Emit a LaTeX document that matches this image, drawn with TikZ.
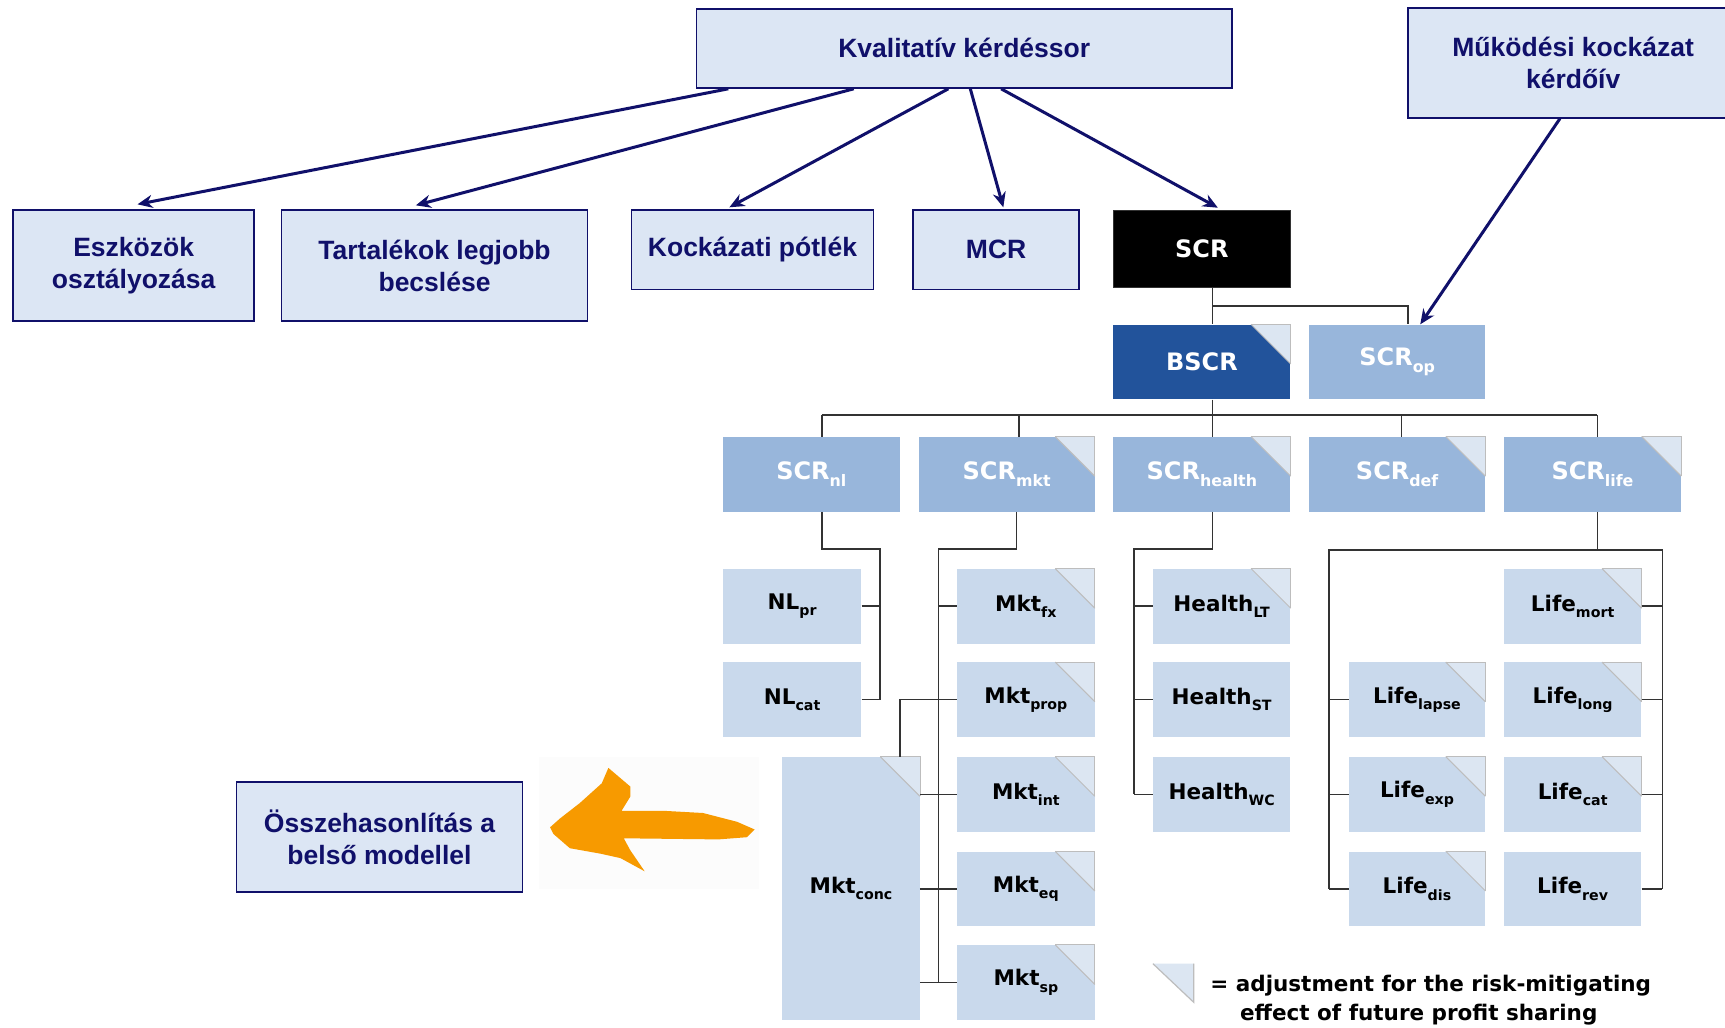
\documentclass[tikz,border=0pt]{standalone}
\usepackage{fontspec}
\setmainfont{Liberation Sans}
\newfontfamily\navyfont{Liberation Sans}
\newfontfamily\vfont{DejaVu Sans}
\usetikzlibrary{arrows.meta}
\definecolor{navy}{HTML}{10106A}
\definecolor{nfill}{HTML}{DCE6F4}
\definecolor{bscrc}{HTML}{22539B}
\definecolor{midc}{HTML}{98B6DB}
\definecolor{lightc}{HTML}{C9D9EC}
\definecolor{cornfill}{HTML}{DCE6F2}
\definecolor{cornline}{HTML}{BDBDBD}
\definecolor{orangec}{HTML}{F79A00}
\definecolor{linec}{HTML}{333333}
\newcommand\sbs[1]{\raisebox{-0.3em}{\scalebox{0.66}{#1}}}
\newcommand\bx[7]{\node[#1, minimum width={(#4-#2)*1.1pt}, minimum height={(#5-#3)*1.1pt}] (#6) at ({(#2+#4)/2},{(#3+#5)/2}) {#7};}
\tikzset{
  nbox/.style={draw=navy, line width=1.6pt, fill=nfill, inner sep=0pt, text=navy,
    font=\navyfont\bfseries\fontsize{26.5}{32}\selectfont, align=center},
  scrbox/.style={fill=black, draw=linec, line width=0.8pt, inner sep=0pt, text=white,
    font=\vfont\bfseries\fontsize{24}{28}\selectfont},
  bbox/.style={fill=bscrc, inner sep=0pt, text=white,
    font=\vfont\bfseries\fontsize{24}{28}\selectfont},
  mbox/.style={fill=midc, inner sep=0pt, text=white,
    font=\vfont\bfseries\fontsize{24}{28}\selectfont},
  lbox/.style={fill=lightc, inner sep=0pt, text=black,
    font=\vfont\bfseries\fontsize{21.5}{26}\selectfont},
  conn/.style={draw=linec, line width=1.6pt},
  narr/.style={draw=navy, line width=3pt, -{Stealth[length=15pt,width=13pt]}},
  legtext/.style={inner sep=0pt, text=black, font=\vfont\bfseries\fontsize{21.5}{28}\selectfont}
}
\begin{document}
\begin{tikzpicture}[x=1.1pt,y=-1.1pt]
\useasboundingbox[fill=white] (0,0) rectangle (1568,934);
\fill[black!1.2] (490,688) rectangle (690,808);
% navy boxes
\bx{nbox}{633}{8}{1120}{80}{kval}{Kvalitatív kérdéssor}
\bx{nbox}{1280}{7}{1580}{107}{mukod}{Működési kockázat\\kérdőív}
\bx{nbox}{12}{191}{231}{292}{eszk}{Eszközök\\osztályozása}
\bx{nbox}{256}{191}{534}{292}{tart}{Tartalékok legjobb\\becslése}
\bx{nbox}{574}{191}{794}{263}{kock}{Kockázati pótlék}
\bx{nbox}{830}{191}{981}{263}{mcr}{MCR}
\bx{nbox}{215}{711}{475}{811}{ossz}{Összehasonlítás a\\belső modellel}
% SCR tree
\bx{scrbox}{1012}{191}{1173}{261}{scr}{SCR}
\bx{bbox}{1012}{295}{1173}{363}{bscr}{BSCR}
\bx{mbox}{1190}{295}{1350}{363}{scrop}{SCR\sbs{op}}
\bx{mbox}{657}{397}{818}{465}{nl}{SCR\sbs{nl}}
\bx{mbox}{835}{397}{995}{465}{mkt}{SCR\sbs{mkt}}
\bx{mbox}{1012}{397}{1173}{465}{health}{SCR\sbs{health}}
\bx{mbox}{1190}{397}{1350}{465}{def}{SCR\sbs{def}}
\bx{mbox}{1367}{397}{1528}{465}{life}{SCR\sbs{life}}
% NL
\bx{lbox}{657}{517}{783}{585}{nlpr}{NL\sbs{pr}}
\bx{lbox}{657}{602}{783}{670}{nlcat}{NL\sbs{cat}}
% Mkt
\bx{lbox}{870}{517}{995}{585}{mktfx}{Mkt\sbs{fx}}
\bx{lbox}{870}{602}{995}{670}{mktprop}{Mkt\sbs{prop}}
\bx{lbox}{870}{688}{995}{756}{mktint}{Mkt\sbs{int}}
\bx{lbox}{870}{774}{995}{842}{mkteq}{Mkt\sbs{eq}}
\bx{lbox}{870}{859}{995}{927}{mktsp}{Mkt\sbs{sp}}
\bx{lbox}{711}{688}{836}{927}{conc}{Mkt\sbs{conc}}
% Health
\bx{lbox}{1048}{517}{1173}{585}{hlt}{Health\sbs{LT}}
\bx{lbox}{1048}{602}{1173}{670}{hst}{Health\sbs{ST}}
\bx{lbox}{1048}{688}{1173}{756}{hwc}{Health\sbs{WC}}
% Life
\bx{lbox}{1226}{602}{1350}{670}{llapse}{Life\sbs{lapse}}
\bx{lbox}{1226}{688}{1350}{756}{lexp}{Life\sbs{exp}}
\bx{lbox}{1226}{774}{1350}{842}{ldis}{Life\sbs{dis}}
\bx{lbox}{1367}{517}{1492}{585}{lmort}{Life\sbs{mort}}
\bx{lbox}{1367}{602}{1492}{670}{llong}{Life\sbs{long}}
\bx{lbox}{1367}{688}{1492}{756}{lcat}{Life\sbs{cat}}
\bx{lbox}{1367}{774}{1492}{842}{lrev}{Life\sbs{rev}}
% folded corners
\foreach \n in {bscr,mkt,health,def,life,mktfx,mktprop,mktint,mkteq,mktsp,conc,hlt,llapse,lexp,ldis,lmort,llong,lcat}{
  \fill[cornfill] ([xshift=-39.6pt]\n.north east) -- (\n.north east) -- ([yshift=-39.6pt]\n.north east) -- cycle;
  \draw[cornline, line width=1pt] ([xshift=-39.6pt]\n.north east) -- ([yshift=-39.6pt]\n.north east);
  \draw[cornline, line width=0.8pt] ([xshift=-39.6pt]\n.north east) -- (\n.north east) -- ([yshift=-39.6pt]\n.north east);
}
% connectors SCR level
\coordinate (j0) at (1102,278);
\draw[conn] (scr.south -| j0) -- (bscr.north -| j0);
\draw[conn] (j0) -| (scrop.north -| 1280,0);
\coordinate (busL) at (747,377);
\coordinate (busR) at (1452,377);
\draw[conn] (bscr.south -| j0) -- (j0 |- busL);
\draw[conn] (busL) -- (busR);
\foreach \n/\x in {nl/747, mkt/926, health/1102, def/1274, life/1452}
  \draw[conn] (\x,377) -- (\n.north -| \x,0);
% NL group
\coordinate (nlbus) at (800,499);
\draw[conn] (nl.south -| 747,0) |- (nlbus) -- (nlbus |- nlcat.east);
\foreach \n in {nlpr,nlcat} \draw[conn] (\n.east) -- (\n.east -| nlbus);
% Mkt group
\coordinate (mbus) at (853,499);
\draw[conn] (mkt.south -| 924,0) |- (mbus) -- (mbus |- mktsp.west);
\foreach \n in {mktfx,mktprop,mktint,mkteq,mktsp} \draw[conn] (\n.west -| mbus) -- (\n.west);
\foreach \n in {mktint,mkteq,mktsp} \draw[conn] (conc.east |- \n.west) -- (mbus |- \n.west);
\draw[conn] (conc.north -| 818,0) |- (mbus |- mktprop.west);
% Health group
\coordinate (hbus) at (1031,499);
\draw[conn] (health.south -| 1102,0) |- (hbus) -- (hbus |- hwc.west);
\foreach \n in {hlt,hst,hwc} \draw[conn] (\n.west -| hbus) -- (\n.west);
% Life group
\coordinate (lbL) at (1208,500);
\coordinate (lbR) at (1511,500);
\draw[conn] (life.south -| 1452,0) -- (1452,500);
\draw[conn] (lbL |- ldis.west) -- (lbL) -- (lbR) -- (lbR |- lrev.east);
\foreach \n in {llapse,lexp,ldis} \draw[conn] (\n.west -| lbL) -- (\n.west);
\foreach \n in {lmort,llong,lcat,lrev} \draw[conn] (\n.east) -- (\n.east -| lbR);
% navy arrows
\draw[narr] (kval.south -| 662,0) -- ([yshift=5pt]eszk.north -| 125,0);
\draw[narr] (kval.south -| 776,0) -- ([yshift=4pt]tart.north -| 378,0);
\draw[narr] (kval.south -| 862,0) -- ([yshift=2pt]kock.north -| 663,0);
\draw[narr] (kval.south -| 882,0) -- ([yshift=2pt]mcr.north -| 912,0);
\draw[narr] (kval.south -| 910,0) -- ([yshift=2pt]scr.north -| 1107,0);
\draw[narr] (mukod.south -| 1418,0) -- (scrop.north -| 1291,0);
% orange arrow
\fill[orangec] (500,752) -- (509,744) -- (527,730) -- (547,712) -- (553,698) -- (573,715) -- (573,724) -- (565,737) -- (603,737) -- (639,739) -- (670,747) -- (686,754) -- (679,761) -- (653,763) -- (567,762) -- (573,773) -- (586,792) -- (564,780) -- (546,776) -- (518,771) -- (503,758) -- cycle;
% legend
\fill[cornfill] (1048,876) -- (1085,876) -- (1085,911) -- cycle;
\draw[cornline, line width=1.2pt] (1048,876) -- (1085,911) -- (1085,876);
\node[legtext, anchor=base west] (leg1) at (1100,901) {= adjustment for the risk-mitigating};
\node[legtext, anchor=base west] (leg2) at (1127,928) {effect of future profit sharing};
\end{tikzpicture}
\end{document}
